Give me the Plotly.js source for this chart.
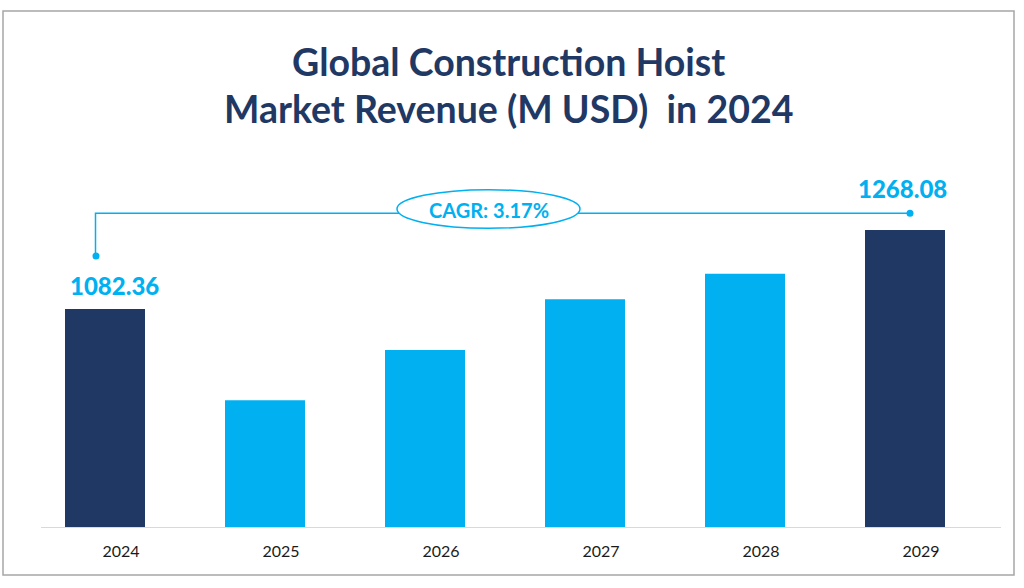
<!DOCTYPE html>
<html>
<head>
<meta charset="utf-8">
<script src="https://cdn.plot.ly/plotly-3.0.1.min.js"></script>
<style>
  html, body { margin: 0; padding: 0; background: #ffffff; }
  #chart { width: 1024px; height: 588px; }
</style>
</head>
<body>
<div id="chart"></div>
<script>
// ---- Data ----
const years = ["2024", "2025", "2026", "2027", "2028", "2029"];
const revenue = [1082.36, 868, 986, 1105, 1165, 1268.08];
const highlightYears = ["2024", "2029"];
const labelTexts = ["1082.36", "1268.08"];
const cagrText = "CAGR: 3.17%";
const titleLines = ["Global Construction Hoist", "Market Revenue (M USD)  in 2024"];

// ---- Styles ----
const NAVY = "#1F3864";
const BLUE = "#00B0F0";
const FONT = "Lato, 'Open Sans', sans-serif";
const W = 1024, H = 588;
const M = { l: 41, r: 23, t: 150, b: 61 };
const plotW = W - M.l - M.r, plotH = H - M.t - M.b;
const px = x => (x - M.l) / plotW;          // pixel -> paper x
const py = y => (H - M.b - y) / plotH;      // pixel -> paper y

const navyY = years.map((y, i) => highlightYears.includes(y) ? revenue[i] : null);
const blueY = years.map((y, i) => highlightYears.includes(y) ? null : revenue[i]);

const barCommon = { type: "bar", x: years, width: 0.5, offset: -0.35, hoverinfo: "x+y", showlegend: false };
const traces = [
  Object.assign({}, barCommon, { y: navyY, marker: { color: NAVY } }),
  Object.assign({}, barCommon, { y: blueY, marker: { color: BLUE } })
];

const labelFont = { family: FONT, size: 24, color: BLUE, weight: 900 };
const i0 = years.indexOf(highlightYears[0]);
const i1 = years.indexOf(highlightYears[1]);
const annotations = [
  { x: i0, y: revenue[i0], xref: "x", yref: "y",
    text: labelTexts[0], showarrow: false, xanchor: "center", yanchor: "middle",
    xshift: -7, yshift: 23, font: labelFont },
  { x: i1, y: revenue[i1], xref: "x", yref: "y",
    text: labelTexts[1], showarrow: false, xanchor: "center", yanchor: "middle",
    xshift: -19, yshift: 41, font: labelFont },
  { x: px(488.5), y: py(209.5), xref: "paper", yref: "paper", text: cagrText,
    showarrow: false, xanchor: "center", yanchor: "middle",
    font: { family: FONT, size: 20, color: BLUE, weight: 700 } },
  { x: px(508), y: py(61), xref: "paper", yref: "paper", text: titleLines[0],
    showarrow: false, xanchor: "center", yanchor: "middle",
    font: { family: FONT, size: 37.5, color: NAVY, weight: 700 } },
  { x: px(508.5), y: py(108.5), xref: "paper", yref: "paper", text: titleLines[1],
    showarrow: false, xanchor: "center", yanchor: "middle",
    font: { family: FONT, size: 37.5, color: NAVY, weight: 700 } }
];

const shapes = [
  // outer frame
  { type: "rect", xref: "paper", yref: "paper", x0: px(3), x1: px(1014), y0: py(575), y1: py(11),
    line: { color: "#A6A6A6", width: 1.5 }, fillcolor: "rgba(0,0,0,0)", layer: "below" },
  // connector
  { type: "path", xref: "paper", yref: "paper",
    path: `M ${px(95.5)} ${py(256)} L ${px(95.5)} ${py(213.3)} L ${px(910)} ${py(213.3)}`,
    line: { color: BLUE, width: 1.5 } },
  { type: "circle", xref: "paper", yref: "paper", x0: px(92.5), x1: px(99.5), y0: py(259.5), y1: py(252.5),
    fillcolor: BLUE, line: { color: BLUE, width: 0 } },
  { type: "circle", xref: "paper", yref: "paper", x0: px(906.5), x1: px(913.5), y0: py(216.8), y1: py(209.8),
    fillcolor: BLUE, line: { color: BLUE, width: 0 } },
  // CAGR ellipse
  { type: "circle", xref: "paper", yref: "paper", x0: px(397), x1: px(580), y0: py(228.3), y1: py(189.7),
    fillcolor: "#ffffff", line: { color: BLUE, width: 1.5 } }
];

const layout = {
  width: W, height: H,
  margin: M,
  paper_bgcolor: "#ffffff", plot_bgcolor: "#ffffff",
  barmode: "overlay",
  xaxis: {
    type: "category", range: [-0.5, 5.5], fixedrange: true,
    showline: true, linecolor: "#D9D9D9", linewidth: 1,
    showgrid: false, zeroline: false, ticks: "",
    ticklabelstandoff: 10,
    tickfont: { family: FONT, size: 16, color: "#1A1A1A" }
  },
  yaxis: {
    range: [570, 1456], visible: false, showgrid: false, zeroline: false, fixedrange: true
  },
  shapes: shapes,
  annotations: annotations
};

Plotly.newPlot("chart", traces, layout, { displayModeBar: false, staticPlot: true });
</script>
</body>
</html>
